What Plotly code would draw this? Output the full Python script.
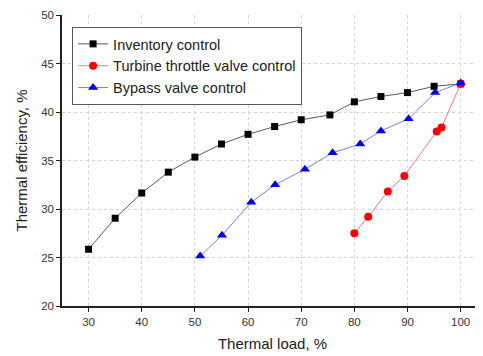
import plotly.graph_objects as go

inv_x = [30, 35, 40, 45, 50, 55, 60, 65, 70, 75.4, 80, 85, 90, 95, 100]
inv_y = [25.85, 29.05, 31.65, 33.8, 35.35, 36.7, 37.7, 38.5, 39.2, 39.7, 41.05, 41.6, 42.0, 42.65, 42.9]

tur_x = [80, 82.6, 86.3, 89.4, 95.5, 96.4, 100]
tur_y = [27.5, 29.2, 31.8, 33.4, 38.0, 38.4, 42.9]

byp_x = [51, 55.1, 60.6, 65.1, 70.7, 75.9, 81.1, 85, 90.2, 95.2, 100]
byp_y = [25.15, 27.3, 30.7, 32.5, 34.1, 35.8, 36.7, 38.05, 39.3, 42.0, 43.0]

x_ticks = [30, 40, 50, 60, 70, 80, 90, 100]
y_ticks = [20, 25, 30, 35, 40, 45, 50]

fig = go.Figure()
fig.add_trace(go.Scatter(x=inv_x, y=inv_y, mode="lines+markers", name="Inventory control",
                         line=dict(color="rgba(60,60,60,0.85)", width=1),
                         marker=dict(symbol="square", size=7, color="black")))
fig.add_trace(go.Scatter(x=tur_x, y=tur_y, mode="lines+markers", name="Turbine throttle valve control",
                         line=dict(color="rgba(240,110,110,0.9)", width=1),
                         marker=dict(symbol="circle", size=8, color="red")))
fig.add_trace(go.Scatter(x=byp_x, y=byp_y, mode="lines+markers", name="Bypass valve control",
                         line=dict(color="rgba(110,110,240,0.9)", width=1),
                         marker=dict(symbol="triangle-up", size=9, color="blue")))

fig.update_layout(
    width=475, height=348,
    margin=dict(l=54, r=0, t=7, b=50, autoexpand=False),
    paper_bgcolor="white", plot_bgcolor="white",
    font=dict(family="Liberation Sans, Arial", size=11.5, color="#333"),
    legend=dict(x=0.024, y=0.959, xanchor="left", yanchor="top",
                bgcolor="white", bordercolor="#555", borderwidth=1,
                font=dict(size=14.5, color="#222"), tracegroupgap=0,
                itemwidth=30),
    showlegend=True,
)
fig.update_xaxes(range=[25, 104.2], tickvals=x_ticks, showline=True, linecolor="#222", linewidth=1.5,
                 ticks="outside", ticklen=4, tickcolor="#222",
                 showgrid=True, gridcolor="#d4d4d4", griddash="dot", gridwidth=1,
                 zeroline=False, automargin=False,
                 title=dict(text="Thermal load, %", font=dict(size=15, color="#222"), standoff=12))
fig.update_yaxes(range=[20, 50], tickvals=y_ticks, showline=True, linecolor="#222", linewidth=1.5,
                 ticks="outside", ticklen=4, tickcolor="#222",
                 showgrid=True, gridcolor="#d4d4d4", griddash="dot", gridwidth=1,
                 zeroline=False, automargin=False,
                 title=dict(text="Thermal efficiency, %", font=dict(size=15, color="#222"), standoff=10))

fig.write_html("out.html")
